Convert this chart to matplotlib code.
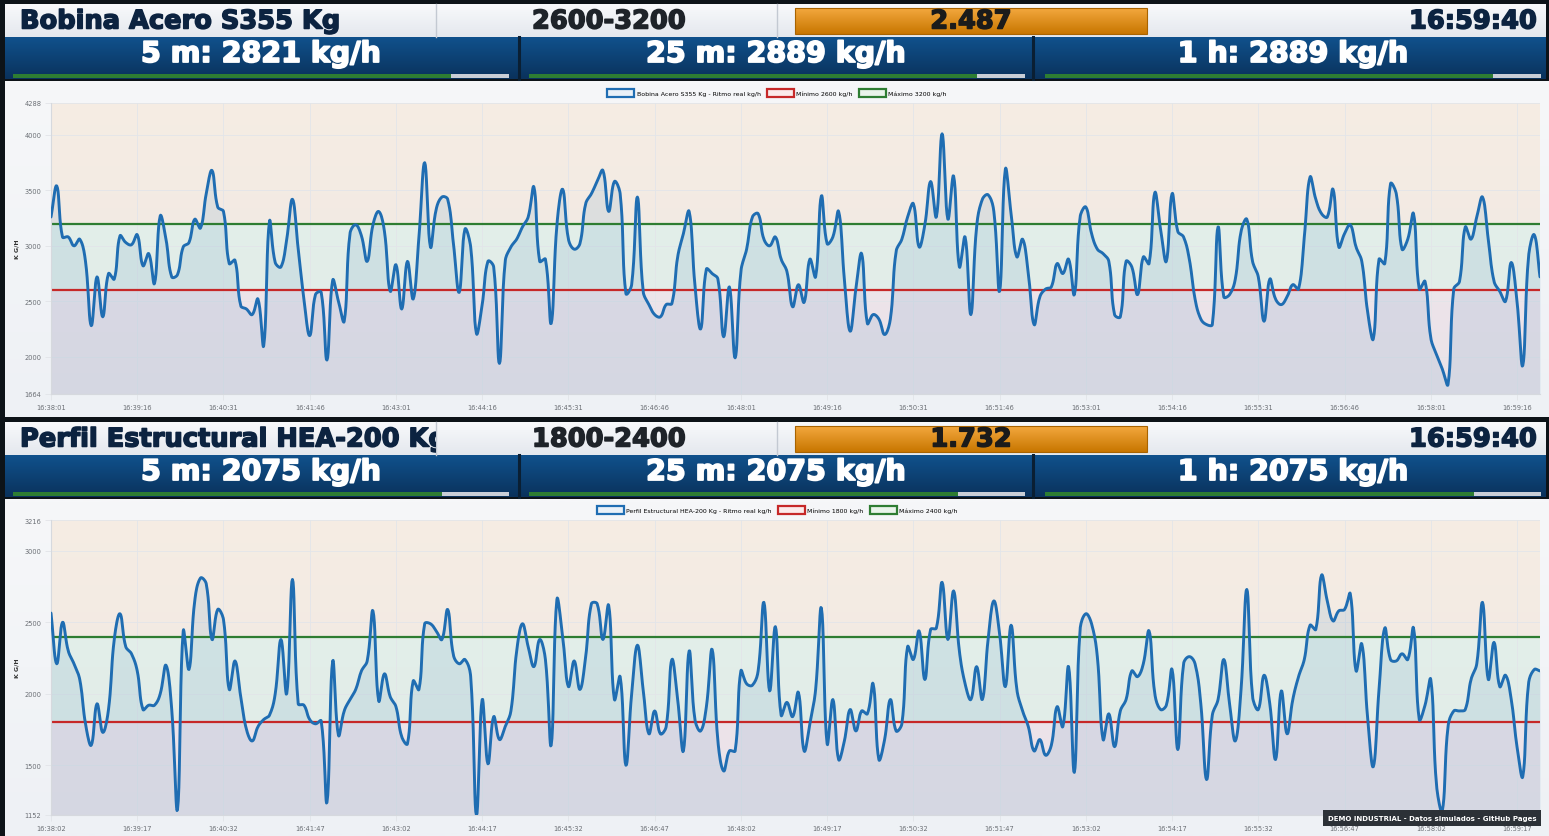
import numpy as np
import matplotlib
matplotlib.use('Agg')
import matplotlib.pyplot as plt
from matplotlib.patches import Rectangle
from matplotlib.colors import to_rgb
import matplotlib.patheffects as pe

# ---------------- DATA ----------------
titles = ["Bobina Acero S355 Kg", "Perfil Estructural HEA-200 Kg"]
ranges = ["2600-3200", "1800-2400"]
ratios = ["2.487", "1.732"]
clock = "16:59:40"
stats1 = ["5 m: 2821 kg/h", "25 m: 2889 kg/h", "1 h: 2889 kg/h"]
stats2 = ["5 m: 2075 kg/h", "25 m: 2075 kg/h", "1 h: 2075 kg/h"]
progress1 = [0.883, 0.903, 0.903]
progress2 = [0.865, 0.865, 0.865]
min1, max1 = 2600, 3200
min2, max2 = 1800, 2400
yticks1 = [1664, 2000, 2500, 3000, 3500, 4000, 4288]
yticks2 = [1152, 1500, 2000, 2500, 3000, 3216]
xlabels1 = ["16:38:01", "16:39:16", "16:40:31", "16:41:46", "16:43:01", "16:44:16",
            "16:45:31", "16:46:46", "16:48:01", "16:49:16", "16:50:31", "16:51:46",
            "16:53:01", "16:54:16", "16:55:31", "16:56:46", "16:58:01", "16:59:16"]
xlabels2 = ["16:38:02", "16:39:17", "16:40:32", "16:41:47", "16:43:02", "16:44:17",
            "16:45:32", "16:46:47", "16:48:02", "16:49:17", "16:50:32", "16:51:47",
            "16:53:02", "16:54:17", "16:55:32", "16:56:47", "16:58:02", "16:59:17"]
legend1 = ["Bobina Acero S355 Kg - Ritmo real kg/h", "Mínimo 2600 kg/h", "Máximo 3200 kg/h"]
legend2 = ["Perfil Estructural HEA-200 Kg - Ritmo real kg/h", "Mínimo 1800 kg/h", "Máximo 2400 kg/h"]

series1 = [
    3260, 3540, 3080, 3080, 3000, 3060, 2860, 2280, 2720, 2360,
    2750, 2700, 3090, 3030, 3010, 3100, 2820, 2930, 2660, 3270,
    3060, 2720, 2740, 2990, 3030, 3240, 3160, 3470, 3680, 3350,
    3310, 2840, 2870, 2460, 2430, 2380, 2520, 2100, 3220, 2850,
    2810, 3060, 3420, 2970, 2520, 2190, 2560, 2580, 1970, 2690,
    2500, 2320, 3110, 3190, 3090, 2860, 3190, 3310, 3130, 2590,
    2830, 2430, 2860, 2520, 3080, 3750, 2990, 3330, 3440, 3420,
    3020, 2580, 3150, 2990, 2210, 2470, 2860, 2810, 1940, 2860,
    2990, 3060, 3170, 3260, 3530, 2860, 2880, 2300, 3190, 3510,
    3060, 2970, 3020, 3380, 3470, 3580, 3680, 3310, 3580, 3470,
    2570, 2650, 3440, 2590, 2470, 2380, 2360, 2470, 2480, 2900,
    3110, 3310, 2650, 2250, 2790, 2750, 2700, 2180, 2630, 1990,
    2770, 2970, 3260, 3290, 3060, 3000, 3080, 2880, 2770, 2450,
    2650, 2490, 2880, 2720, 3450, 3020, 3080, 3310, 2700, 2230,
    2610, 2930, 2300, 2380, 2340, 2200, 2340, 2950, 3060, 3260,
    3380, 2990, 3190, 3580, 3260, 4010, 3240, 3630, 2810, 3080,
    2380, 3170, 3420, 3460, 3310, 2590, 3690, 3290, 2900, 3060,
    2750, 2290, 2540, 2610, 2630, 2840, 2750, 2880, 2560, 3260,
    3350, 3110, 2970, 2930, 2860, 2380, 2360, 2860, 2810, 2560,
    2900, 2840, 3480, 3150, 2860, 3470, 3130, 3080, 2880, 2520,
    2340, 2290, 2290, 3170, 2540, 2560, 2700, 3130, 3240, 2860,
    2720, 2320, 2700, 2520, 2470, 2540, 2650, 2610, 3080, 3620,
    3420, 3290, 3260, 3510, 2990, 3110, 3190, 2990, 2860, 2410,
    2160, 2880, 2840, 3560, 3470, 2970, 3060, 3290, 2610, 2680,
    2170, 2020, 1890, 1750, 2610, 2680, 3170, 3060, 3260, 3440,
    3060, 2680, 2590, 2500, 2850, 2500, 1920, 2900, 3100, 2720,
]

series2 = [
    2565, 2210, 2500, 2300, 2210, 2100, 1790, 1640, 1930, 1730,
    1890, 2380, 2560, 2330, 2280, 2160, 1890, 1920, 1920, 2000,
    2200, 1890, 1190, 2440, 2170, 2650, 2810, 2770, 2380, 2590,
    2520, 2030, 2230, 1980, 1750, 1670, 1770, 1820, 1850, 2000,
    2380, 2000, 2800, 1930, 1920, 1820, 1790, 1810, 1240, 2230,
    1710, 1880, 1960, 2030, 2160, 2230, 2580, 1950, 2140, 1980,
    1910, 1700, 1650, 2090, 2030, 2490, 2490, 2440, 2380, 2590,
    2270, 2210, 2240, 2120, 1150, 1960, 1510, 1840, 1680, 1770,
    1880, 2300, 2490, 2330, 2190, 2380, 2240, 1640, 2660, 2400,
    2050, 2230, 2030, 2260, 2630, 2630, 2380, 2620, 1960, 2120,
    1500, 2000, 2340, 2030, 1720, 1880, 1720, 1770, 2240, 1960,
    1600, 2300, 1820, 1740, 1910, 2310, 1670, 1460, 1600, 1600,
    2160, 2070, 2060, 2160, 2640, 2020, 2470, 1850, 1940, 1840,
    2010, 1600, 1790, 2030, 2600, 1650, 1960, 1540, 1670, 1890,
    1740, 1880, 1860, 2070, 1540, 1680, 1960, 1740, 1790, 2330,
    2240, 2440, 2100, 2450, 2460, 2780, 2380, 2720, 2300, 2070,
    1960, 2190, 1960, 2380, 2650, 2420, 2050, 2480, 2030, 1880,
    1770, 1600, 1680, 1570, 1640, 1910, 1770, 2190, 1450, 2450,
    2560, 2490, 2260, 1680, 1860, 1630, 1880, 1960, 2160, 2120,
    2210, 2440, 2000, 1890, 1920, 2170, 1610, 2210, 2260, 2210,
    1930, 1400, 1850, 1960, 2240, 1930, 1670, 2030, 2730, 1980,
    1890, 2130, 1930, 1540, 2020, 1720, 1960, 2120, 2240, 2480,
    2450, 2830, 2650, 2510, 2580, 2590, 2700, 2160, 2350, 1840,
    1490, 2030, 2460, 2240, 2230, 2280, 2240, 2460, 1820, 1920,
    2100, 1360, 1180, 1770, 1880, 1880, 1890, 2100, 2210, 2640,
    2100, 2360, 2050, 2130, 1960, 1630, 1420, 2070, 2170, 2160,
]

# ---------------- STYLE ----------------
W, H = 1549, 837
DARK = '#0d1318'
NAVY = '#0c2340'
LINE = '#1f6db2'
GREEN = '#2e7d32'
RED = '#c62828'

fig = plt.figure(figsize=(W / 100, H / 100), dpi=100)
fig.patch.set_facecolor(DARK)

bg = fig.add_axes([0, 0, 1, 1])
bg.axis('off')


def heavy(color, w=1.1):
    return [pe.withStroke(linewidth=w, foreground=color)]


def grad(x0, y0, x1, y1, c0, c1, z=1):
    a = np.array(to_rgb(c0))
    b = np.array(to_rgb(c1))
    t = np.linspace(0, 1, 64)[:, None]
    img = (a * (1 - t) + b * t)[:, None, :]
    bg.imshow(img, extent=(x0, x1, y1, y0), aspect='auto', zorder=z,
              interpolation='bilinear')


def px_axes(x0, y0, x1, y1):
    return fig.add_axes([x0 / W, 1 - y1 / H, (x1 - x0) / W, (y1 - y0) / H])


def smooth(xp, yp, tension=0.4, n=10):
    # Chart.js-like bezier spline, computed in pixel space
    xp = np.asarray(xp, float)
    yp = np.asarray(yp, float)
    m = len(xp)
    cpl = np.zeros((m, 2))
    cpr = np.zeros((m, 2))
    P = np.column_stack([xp, yp])
    for i in range(m):
        p0 = P[max(i - 1, 0)]
        p1 = P[i]
        p2 = P[min(i + 1, m - 1)]
        d01 = np.hypot(*(p1 - p0))
        d12 = np.hypot(*(p2 - p1))
        s = d01 + d12
        s01 = d01 / s if s else 0
        s12 = d12 / s if s else 0
        cpl[i] = p1 - tension * s01 * (p2 - p0)
        cpr[i] = p1 + tension * s12 * (p2 - p0)
    out = []
    t = np.linspace(0, 1, n, endpoint=False)[:, None]
    for i in range(m - 1):
        a, b, c, d = P[i], cpr[i], cpl[i + 1], P[i + 1]
        seg = ((1 - t) ** 3) * a + 3 * ((1 - t) ** 2) * t * b + 3 * (1 - t) * t ** 2 * c + t ** 3 * d
        out.append(seg)
    out.append(P[-1:])
    out = np.vstack(out)
    return out[:, 0], out[:, 1]


def panel(off, title, rng, ratio, stats, progress, series, vmin, vmax,
          yticks, xlabels, legend_labels, chart_bottom):
    # header row
    grad(5, 5 + off, 1546, 38 + off, '#f8f9fb', '#e4e8ee')
    bg.plot([436, 436], [5 + off, 38 + off], color='#c3c9d2', lw=1, zorder=2)
    bg.plot([777, 777], [5 + off, 38 + off], color='#c3c9d2', lw=1, zorder=2)
    clip = Rectangle((5, 5 + off), 431, 33, transform=bg.transData)
    t = bg.text(20, 22.5 + off, title, fontsize=18.5, fontweight='bold', color=NAVY,
                ha='left', va='center', zorder=3, path_effects=heavy(NAVY))
    t.set_clip_on(True)
    t.set_clip_path(clip)
    bg.text(532, 22.5 + off, rng, fontsize=18.5, fontweight='bold', color='#1e2329',
            ha='left', va='center', zorder=3, path_effects=heavy('#1e2329'))
    grad(795, 9 + off, 1147, 35 + off, '#f3a83e', '#c87600', z=2)
    bg.add_patch(Rectangle((795, 9 + off), 352, 26, fill=False, ec='#a86300', lw=0.8, zorder=3))
    bg.text(971, 22.5 + off, ratio, fontsize=18.5, fontweight='bold', color='#1b1b1b',
            ha='center', va='center', zorder=4, path_effects=heavy('#1b1b1b'))
    bg.text(1537, 22.5 + off, clock, fontsize=18.5, fontweight='bold', color=NAVY,
            ha='right', va='center', zorder=3, path_effects=heavy(NAVY))

    # blue stats row
    grad(5, 38 + off, 1546, 80 + off, '#10518c', '#0a325c')
    for xs in (519.5, 1033):
        bg.plot([xs, xs], [38 + off, 80 + off], color='#0a1f33', lw=2.2, zorder=2)
    cells = [(13, 509), (529, 1025), (1045, 1541)]
    centers = [261, 776, 1293]
    for (a, b), c, s, p in zip(cells, centers, stats, progress):
        bg.text(c, 55 + off, s, fontsize=20.5, fontweight='bold', color='white',
                ha='center', va='center', zorder=3, path_effects=heavy('white', 1.3))
        bg.add_patch(Rectangle((a, 74.5 + off), b - a, 4, fc='#c9ced6', ec='none', zorder=3))
        bg.add_patch(Rectangle((a, 74.5 + off), (b - a) * p, 4, fc=GREEN, ec='none', zorder=4))

    # chart area background
    grad(5, 82 + off, 1549, chart_bottom, '#f6f7f9', '#eef1f5')

    top_px = 104 + off if off == 0 else 521
    bot_px = 395 if off == 0 else 816
    ax = px_axes(51, top_px, 1540, bot_px)
    ax.set_facecolor('none')
    n = len(series)
    idx = np.arange(n)
    ylo, yhi = yticks[0], yticks[-1]
    ax.set_xlim(0, n - 1)
    ax.set_ylim(ylo, yhi)

    ax.axhspan(vmax, yhi, color='#fd8a10', alpha=0.085, lw=0, zorder=0)
    ax.axhspan(vmin, vmax, color='#28a745', alpha=0.075, lw=0, zorder=0)
    ax.axhspan(ylo, vmin, color='#c0364a', alpha=0.075, lw=0, zorder=0)

    # smooth in pixel space then convert back
    sx = (bot_px - top_px) / (yhi - ylo)
    xpx = idx * (1489 / (n - 1))
    ypx = (np.asarray(series) - ylo) * sx
    cx, cy = smooth(xpx, ypx)
    cx = cx / (1489 / (n - 1))
    cy = cy / sx + ylo
    cy = np.clip(cy, ylo, yhi)
    ax.fill_between(cx, ylo, cy, color='#1f77b4', alpha=0.10, lw=0, zorder=1)
    ax.axhline(vmin, color=RED, lw=1.6, zorder=2)
    ax.axhline(vmax, color=GREEN, lw=1.6, zorder=2)
    ax.plot(cx, cy, color=LINE, lw=2.1, zorder=3, solid_capstyle='round')

    xt = list(range(0, n, 15))[:len(xlabels)]
    ax.set_xticks(xt)
    ax.set_xticklabels(xlabels)
    ax.set_yticks(yticks)
    ax.set_yticklabels([str(v) for v in yticks])
    ax.tick_params(axis='both', labelsize=4.8, labelcolor='#6b6f75', color='#e2e4e8',
                   length=4, width=0.6, pad=3)
    ax.grid(True, color='#e3e5e9', lw=0.6, zorder=0)
    ax.set_axisbelow(True)
    for sname in ('top', 'right'):
        ax.spines[sname].set_visible(False)
    for sname in ('left', 'bottom'):
        ax.spines[sname].set_color('#d6d9de')
        ax.spines[sname].set_linewidth(0.8)
    ax.set_ylabel('K G/H', fontsize=4.5, fontweight='bold', color='#333')
    ax.yaxis.set_label_coords(-0.021, 0.5)

    handles = [Rectangle((0, 0), 1, 1, fc='#eaf1f8', ec=LINE, lw=1.6),
               Rectangle((0, 0), 1, 1, fc='#fbeaea', ec=RED, lw=1.6),
               Rectangle((0, 0), 1, 1, fc='#e9f4ea', ec=GREEN, lw=1.6)]
    ax.legend(handles, legend_labels, loc='lower center',
              bbox_to_anchor=((777 - 51) / 1489, 1.0 + 4 / (bot_px - top_px)), ncol=3,
              fontsize=4.5, frameon=False, handlelength=4.3, handleheight=1.5,
              columnspacing=1.0, handletextpad=0.4, borderaxespad=0)
    return ax


panel(0, titles[0], ranges[0], ratios[0], stats1, progress1, series1, min1, max1,
      yticks1, xlabels1, legend1, 418)
panel(418, titles[1], ranges[1], ratios[1], stats2, progress2, series2, min2, max2,
      yticks2, xlabels2, legend2, 837)

bg.set_xlim(0, W)
bg.set_ylim(H, 0)

fig.text(1432 / W, 1 - 819 / H, 'DEMO INDUSTRIAL - Datos simulados - GitHub Pages',
         fontsize=5, fontweight='bold', color='white', ha='center', va='center',
         bbox=dict(boxstyle='square,pad=0.7', fc='#2c3137', ec='none'), zorder=10)

fig.savefig('out.png', dpi=100, facecolor=fig.get_facecolor())
